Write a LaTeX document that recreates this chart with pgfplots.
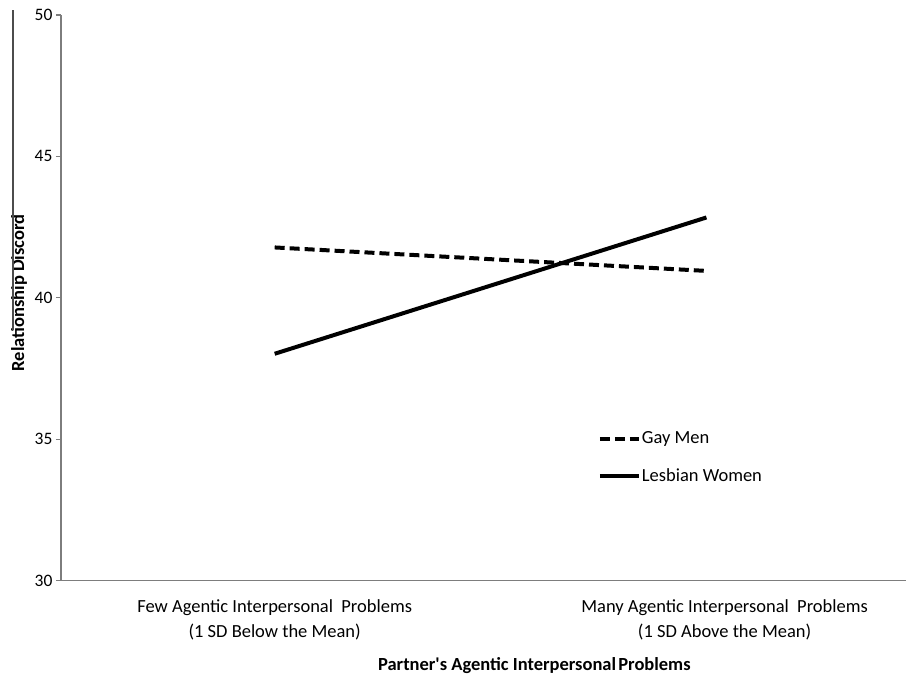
\documentclass[border=0pt]{standalone}
\usepackage{fontspec}
\setmainfont{Carlito}
\usepackage{pgfplots}
\pgfplotsset{compat=1.18}
\definecolor{axisgray}{RGB}{125,125,125}
\newcommand\fs{\fontsize{18.5bp}{25bp}\selectfont}

\begin{document}
\begin{tikzpicture}
\begin{axis}[
    scale only axis,
    width=846bp, height=566bp,
    xmin=0.505, xmax=2.463,
    ymin=30, ymax=50,
    clip=false,
    axis x line*=bottom,
    axis y line*=left,
    axis line style={axisgray, line width=1.3bp},
    ytick={30,35,40,45,50},
    tick align=outside,
    major tick length=5bp,
    ytick style={axisgray, line width=1.3bp},
    xtick={1,2.042},
    xtick style={draw=none},
    xticklabels={Few Agentic Interpersonal\ \ Problems\\(1 SD Below the Mean),
                 Many Agentic Interpersonal\ \ Problems\\(1 SD Above the Mean)},
    xticklabel style={font=\fs, align=center, yshift=-11bp},
    yticklabel style={font=\fontsize{17.5bp}{21bp}\selectfont},
    /pgf/number format/assume math mode=true,
    xlabel={Partner\textquotesingle s Agentic Interpersonal\hspace{0.12em}Problems},
    xlabel style={font=\fs\bfseries, at={(rel axis cs:0.56,0)}, anchor=base, yshift=-90bp},
    ylabel={Relationship Discord},
    ylabel style={font=\fs\bfseries, at={(rel axis cs:0,0.5)}, anchor=center, yshift=42bp, xshift=5bp},
    legend style={at={(rel axis cs:0.635,0.265)}, anchor=north west, draw=none, fill=none,
                  font=\fs, row sep=21bp, inner sep=0pt, nodes={inner sep=1bp, anchor=west}},
    legend cell align=left,
    legend image code/.code={\draw[#1] (0bp,0bp) -- (39bp,0bp);},
]
\addplot[black, line width=4bp, dash pattern=on 10bp off 5bp] coordinates {(1,41.78) (2,40.95)};
\addlegendentry{Gay Men}
\addplot[black, line width=4bp] coordinates {(1,38.02) (2,42.84)};
\addlegendentry{Lesbian Women}
\coordinate (O) at (rel axis cs:0,0);
\end{axis}
% frame edge left over from the page
\draw[line width=1.3bp, black!70] ([shift={(-48bp,251bp)}]O) -- ([shift={(-48bp,571bp)}]O);
\path ([shift={(-61bp,-95bp)}]O) rectangle ([shift={(846bp,581bp)}]O);
\end{tikzpicture}
\end{document}
